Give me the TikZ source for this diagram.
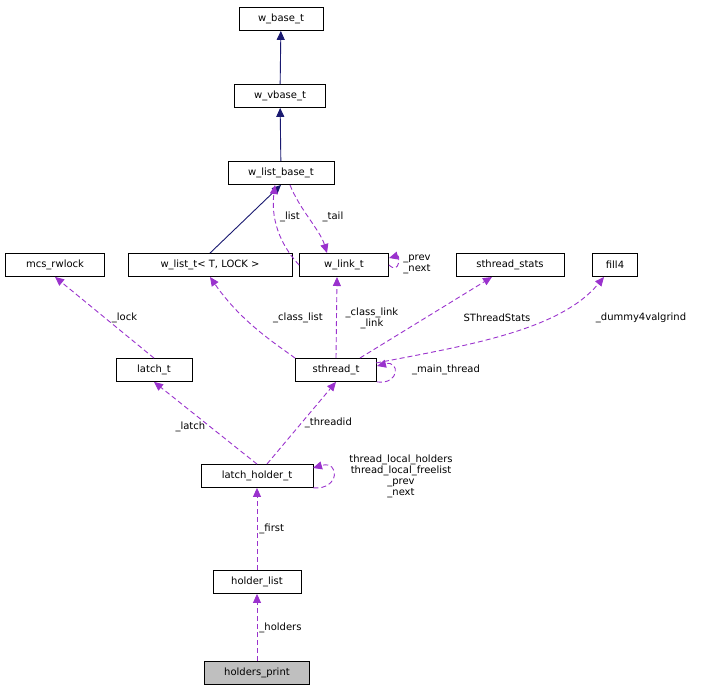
\documentclass[tikz,border=0pt]{standalone}
\usepackage{fontspec}
\setmainfont{DejaVu Sans}
\usetikzlibrary{arrows.meta}
\begin{document}
\begin{tikzpicture}[x=1pt,y=-1pt,font=\fontsize{10}{11}\selectfont,
    cls/.style={draw,fill=white,minimum height=23pt,inner sep=0pt,line width=0.8pt},
    inh/.style={draw={rgb,255:red,25;green,25;blue,112},line width=0.9pt,
      -{Triangle[length=9pt,width=8pt]}},
    use/.style={draw={rgb,255:red,154;green,50;blue,205},line width=0.9pt,dash pattern=on 5pt off 3pt,
      -{Triangle[length=9pt,width=8pt,fill={rgb,255:red,154;green,50;blue,205}]}},
    lab/.style={align=center,inner sep=1pt}]
    \useasboundingbox (0,0) rectangle (705,693);
    \node[cls,minimum width=84pt] (base) at (281,19) {w\_base\_t};
    \node[cls,minimum width=91pt] (vbase) at (280,96) {w\_vbase\_t};
    \node[cls,minimum width=106pt] (lbase) at (281,173) {w\_list\_base\_t};
    \node[cls,minimum width=99pt] (rw) at (55,265) {mcs\_rwlock};
    \node[cls,minimum width=164pt] (wlist) at (210,265) {w\_list\_t< T, LOCK >};
    \node[cls,minimum width=89pt] (link) at (344,265) {w\_link\_t};
    \node[cls,minimum width=108pt] (stats) at (510,265) {sthread\_stats};
    \node[cls,minimum width=45pt] (fill) at (615,265) {fill4};
    \node[cls,minimum width=76pt] (latch) at (154,370) {latch\_t};
    \node[cls,minimum width=81pt] (sth) at (336,370) {sthread\_t};
    \node[cls,minimum width=112pt] (lh) at (257,476) {latch\_holder\_t};
    \node[cls,minimum width=88pt] (hl) at (257,582) {holder\_list};
    \node[cls,minimum width=105pt,fill=black!25] (hp) at (257,673) {holders\_print};
    % inheritance
    \draw[inh] (vbase) -- (base);
    \draw[inh] (lbase) -- (vbase);
    \draw[inh] (wlist.north) -- (lbase.south);
    % usage
    \draw[use] (link.west) .. controls (285,250) and (270,225) .. (275,185);
    \draw[use] (290,185) .. controls (300,210) and (320,230) .. (327,253);
    \node[lab] at (290,217) {\_list};
    \node[lab] at (333,217) {\_tail};
    \draw[use] (link.east) .. controls (400,275) and (400,255) .. (389,258);
    \node[lab] at (417,264) {\_prev\\\_next};
    \draw[use] (latch.north) -- (rw.south) node[lab,midway,right=6pt] {\_lock};
    \draw[use] (sth.north west) .. controls (270,340) and (240,320) .. (210,277);
    \node[lab] at (298,318) {\_class\_list};
    \draw[use] (sth.north) -- (337,277);
    \node[lab] at (372,318) {\_class\_link\\\_link};
    \draw[use] (360,358) -- (492,277);
    \node[lab] at (497,318) {SThreadStats};
    \draw[use] (376,363) .. controls (470,345) and (560,330) .. (604,277);
    \node[lab] at (641,318) {\_dummy4valgrind};
    \draw[use] (sth.south east) .. controls (400,385) and (400,360) .. (377,366);
    \node[lab] at (446,370) {\_main\_thread};
    \draw[use] (lh.north) -- (latch.south) node[lab,pos=0.45,left=4pt] {\_latch};
    \draw[use] (267,464) -- (sth.south) node[lab,pos=0.5,right=2pt] {\_threadid};
    \draw[use] (lh.south east) .. controls (340,490) and (340,460) .. (313,468);
    \node[lab] at (401,476) {thread\_local\_holders\\thread\_local\_freelist\\\_prev\\\_next};
    \draw[use] (hl.north) -- (lh.south) node[lab,midway,right=1pt] {\_first};
    \draw[use] (hp.north) -- (hl.south) node[lab,midway,right=1pt] {\_holders};
\end{tikzpicture}
\end{document}
